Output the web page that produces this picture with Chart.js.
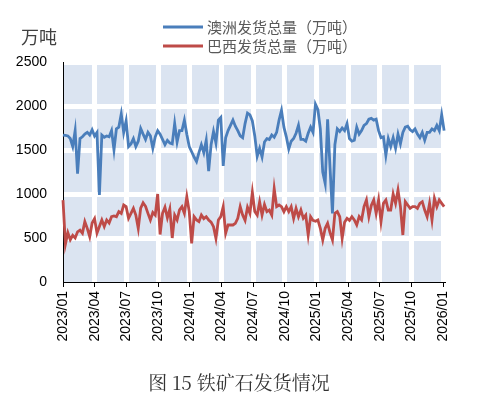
<!DOCTYPE html>
<html>
<head>
<meta charset="utf-8">
<script src="https://cdn.jsdelivr.net/npm/chart.js@4/dist/chart.umd.min.js"></script>
<style>
  html, body { margin: 0; padding: 0; background: #fff; }
  #wrap { width: 483px; height: 398px; position: relative; }
</style>
</head>
<body>
<div id="wrap"><canvas id="c"></canvas></div>
<script>
// 周度数据，起点 2023/01 第一周
const seriesNames = ['澳洲发货总量（万吨）', '巴西发货总量（万吨）'];
const australia = [
  1670, 1665, 1660, 1630, 1540, 1720, 1230, 1630, 1650, 1680,
  1700, 1670, 1730, 1660, 1700, 990, 1670, 1645, 1660, 1650,
  1720, 1500, 1740, 1760, 1910, 1700, 1830, 1540, 1570, 1630,
  1540, 1600, 1745, 1680, 1620, 1700, 1660, 1520, 1650, 1720,
  1680, 1620, 1560, 1610, 1580, 1570, 1800, 1590, 1720, 1720,
  1840, 1680, 1540, 1480, 1420, 1370, 1470, 1560, 1470, 1610,
  1260, 1560, 1710, 1580, 1840, 1870, 1320, 1640, 1720, 1780,
  1840, 1770, 1720, 1660, 1640, 1800, 1920, 1900, 1830, 1660,
  1430, 1520, 1420, 1590, 1630, 1620, 1670, 1645, 1700, 1840,
  1950, 1760, 1650, 1510, 1600, 1630, 1690, 1780, 1620, 1620,
  1600, 1690, 1760, 1700, 2020, 1960, 1740, 1250, 1120, 1850,
  1300, 780, 1560, 1740, 1710, 1750, 1720, 1800, 1630, 1600,
  1610, 1760, 1680, 1720, 1780, 1800, 1850, 1860, 1840, 1850,
  1720, 1640, 1650, 1440, 1630, 1540, 1640, 1520, 1680, 1570,
  1700, 1760, 1770, 1730, 1710, 1740, 1680, 1640, 1700, 1610,
  1700, 1700, 1740, 1720, 1780, 1720, 1900, 1720
];
const brazil = [
  930, 430, 560, 480, 530, 500, 570, 590, 555, 686,
  610, 515, 670, 720, 555, 630, 705, 630, 705, 670,
  742, 750, 742, 800, 780, 875, 856, 724, 780, 837,
  760, 610, 840, 900, 860, 780, 705, 790, 760, 1000,
  540, 780, 850, 730, 830, 500, 760, 705, 820, 856,
  780, 970, 800, 440, 742, 705, 686, 761, 720, 742,
  705, 680, 629, 496, 705, 742, 856, 553, 648, 648,
  648, 667, 724, 856, 760, 700, 850, 780, 1020, 800,
  760, 910, 760, 880, 800, 818, 761, 1060, 856, 875,
  856, 799, 856, 800, 856, 724, 837, 742, 818, 724,
  760, 534, 742, 700, 690, 705, 610, 477, 610, 667,
  560, 477, 780, 800, 742, 496, 680, 724, 700, 742,
  705, 648, 742, 705, 856, 932, 742, 870, 932, 780,
  932, 686, 894, 932, 818, 818, 1000, 894, 1045, 856,
  534, 913, 875, 837, 856, 856, 837, 894, 913, 818,
  742, 894, 705, 951, 856, 932, 894, 856
];
const startYear = 2023;
const yTicks = [0, 500, 1000, 1500, 2000, 2500];

// 周序号 -> 距 2023/01 的月数
const toMonth = i => i * 7 / (365.25 / 12);
const pts = arr => arr.map((v, i) => ({ x: toMonth(i), y: v }));

const bgPlugin = {
  id: 'bg',
  beforeDraw(chart) {
    const { ctx, chartArea: a } = chart;
    ctx.save();
    ctx.fillStyle = '#dbe4f1';
    ctx.fillRect(a.left, a.top, a.right - a.left, a.bottom - a.top);
    ctx.restore();
  },
  afterDraw(chart) {
    const ctx = chart.ctx;
    ctx.save();
    // 单位
    ctx.fillStyle = '#404040';
    ctx.font = '18px "Noto Sans CJK SC"';
    ctx.textBaseline = 'middle';
    ctx.textAlign = 'left';
    ctx.fillText('万吨', 21, 37);
    // 图例
    ctx.font = '15px "Noto Sans CJK SC"';
    chart.data.datasets.forEach((ds, k) => {
      const y = 27 + k * 19;
      ctx.strokeStyle = ds.borderColor;
      ctx.lineWidth = 3;
      ctx.beginPath();
      ctx.moveTo(163, y);
      ctx.lineTo(203, y);
      ctx.stroke();
      ctx.fillStyle = '#595959';
      ctx.fillText(ds.label, 207, y);
    });
    // 标题
    ctx.fillStyle = '#333';
    ctx.font = '19px "Noto Serif CJK SC", "Noto Sans CJK SC"';
    ctx.textAlign = 'center';
    ctx.fillText('图 15 铁矿石发货情况', 239, 383);
    ctx.restore();
  }
};

new Chart(document.getElementById('c'), {
  type: 'line',
  data: {
    datasets: [
      { label: seriesNames[0], data: pts(australia), borderColor: '#4a7ebb', borderWidth: 2.8, pointRadius: 0, tension: 0, clip: false },
      { label: seriesNames[1], data: pts(brazil), borderColor: '#be4b48', borderWidth: 2.8, pointRadius: 0, tension: 0, clip: false }
    ]
  },
  options: {
    responsive: true,
    maintainAspectRatio: false,
    animation: false,
    layout: { padding: { left: 0, right: 40, top: 62, bottom: 0 } },
    plugins: { legend: { display: false }, title: { display: false }, tooltip: { enabled: false } },
    scales: {
      x: {
        type: 'linear',
        min: 0,
        max: 36,
        afterFit: s => { s.height = 116; },
        ticks: {
          stepSize: 3,
          autoSkip: false,
          minRotation: 90,
          maxRotation: 90,
          padding: 4,
          color: '#000',
          font: { family: 'Liberation Sans', size: 14 },
          callback: v => {
            const y = startYear + Math.floor(v / 12);
            const m = v % 12 + 1;
            return y + '/' + String(m).padStart(2, '0');
          }
        },
        grid: {
          color: c => c.index === 0 ? 'rgba(0,0,0,0)' : '#ffffff',
          lineWidth: 5,
          tickColor: '#000',
          tickWidth: 1,
          tickLength: 5
        },
        border: { color: '#000', width: 1 }
      },
      y: {
        min: 0,
        max: 2500,
        afterFit: s => { s.width = 63; },
        afterBuildTicks: s => { s.ticks = yTicks.map(v => ({ value: v })); },
        ticks: {
          padding: 16,
          color: '#000',
          font: { family: 'Liberation Sans', size: 14 },
          callback: v => String(v)
        },
        grid: {
          color: c => c.index === 0 ? 'rgba(0,0,0,0)' : '#ffffff',
          lineWidth: 5,
          drawTicks: false
        },
        border: { color: '#000', width: 1 }
      }
    }
  },
  plugins: [bgPlugin]
});
</script>
</body>
</html>
